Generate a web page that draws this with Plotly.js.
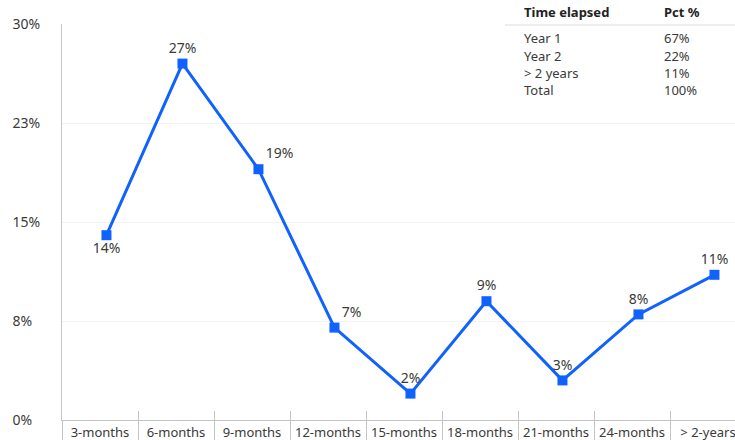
<!DOCTYPE html>
<html>
<head>
<meta charset="utf-8">
<script src="https://cdn.plot.ly/plotly-3.0.1.min.js"></script>
<style>html,body{margin:0;padding:0;background:#fff;overflow:hidden}#chart{width:735px;height:440px}</style>
</head>
<body>
<div id="chart"></div>
<script>
// ---- data ----
const categories = ['3-months','6-months','9-months','12-months','15-months','18-months','21-months','24-months','> 2-years'];
const values = [14, 27, 19, 7, 2, 9, 3, 8, 11];
const labelPositions = ['bottom center','top center','top right','top right','top center','top center','top center','top center','top center'];
const yTickValues = [0, 7.5, 15, 22.5, 30];
const yTickLabels = ['0%\u2007', '8%\u2007', '15%', '23%', '30%'];
const tableHeader = ['Time elapsed', 'Pct %'];
const tableLabels = ['Year 1', 'Year 2', '> 2 years', 'Total'];
const tablePcts = ['67%', '22%', '11%', '100%'];

// ---- layout helpers ----
const W = 735, H = 440, mL = 62, mR = 0, mT = 24, mB = 20;
const plotH = H - mT - mB, plotW = W - mL - mR;
const py = p => (H - mB - p) / plotH;     // pixel y -> paper y
const px = p => (p - mL) / plotW;         // pixel x -> paper x
const catW = 76;
const xMax = -0.5 + plotW / catW;
const shift = 0.085;
const idx = categories.map((_, i) => i);
const bounds = categories.map((_, i) => i - 0.5).concat([categories.length - 0.5]);

const textColor = '#3a3a3a';
const font = 'Noto Sans, Open Sans, sans-serif';
const axisColor = '#c4c4c4';

const trace = {
  x: categories, y: values, type: 'scatter', mode: 'lines+markers+text',
  line: {color: '#0f62fe', width: 3},
  marker: {symbol: 'square', size: 10, color: '#0f62fe'},
  text: values.map(v => v + '%'),
  textposition: labelPositions,
  textfont: {family: font, size: 14, color: textColor},
  cliponaxis: false, hoverinfo: 'skip', showlegend: false
};
// invisible helper traces so the overlaid label / tick axes are drawn
const helper = ax => ({x: idx, y: values, xaxis: ax, yaxis: 'y', type: 'scatter', mode: 'markers',
  marker: {opacity: 0, size: 1}, hoverinfo: 'skip', showlegend: false});

const annotations = [];
const colX = [522, 662];
tableHeader.forEach((t, i) => annotations.push({
  xref: 'paper', yref: 'paper', x: px(colX[i]), y: py(12), xanchor: 'left', yanchor: 'middle',
  text: '<b>' + t + '</b>', showarrow: false, font: {family: font, size: 13, color: '#222'}
}));
const rowY = [38, 56, 73, 90];
tableLabels.forEach((t, i) => {
  annotations.push({xref: 'paper', yref: 'paper', x: px(colX[0]), y: py(rowY[i]), xanchor: 'left', yanchor: 'middle',
    text: t, showarrow: false, font: {family: font, size: 13, color: textColor}});
  annotations.push({xref: 'paper', yref: 'paper', x: px(colX[1]), y: py(rowY[i]), xanchor: 'left', yanchor: 'middle',
    text: tablePcts[i], showarrow: false, font: {family: font, size: 13, color: textColor}});
});

const baseX = {range: [-0.5, xMax], showgrid: false, zeroline: false, fixedrange: true, type: 'linear'};

const layout = {
  width: W, height: H,
  margin: {l: mL, r: mR, t: mT, b: mB, pad: 0},
  paper_bgcolor: '#fff', plot_bgcolor: '#fff',
  font: {family: font, color: textColor},
  showlegend: false,
  xaxis: {type: 'category', range: [-0.5 - shift, xMax - shift], showticklabels: false, ticks: '',
          showgrid: false, zeroline: false, showline: false, fixedrange: true},
  xaxis2: Object.assign({}, baseX, {overlaying: 'x', anchor: 'y', side: 'bottom',
          tickmode: 'array', tickvals: idx, ticktext: categories, ticks: '',
          ticklabeloverflow: 'allow',
          showline: true, linecolor: axisColor, linewidth: 1,
          tickfont: {family: font, size: 13, color: textColor}}),
  xaxis3: Object.assign({}, baseX, {overlaying: 'x', anchor: 'y', side: 'bottom',
          tickmode: 'array', tickvals: bounds, showticklabels: false,
          ticks: 'outside', ticklen: 20, tickwidth: 1, tickcolor: axisColor}),
  xaxis4: Object.assign({}, baseX, {overlaying: 'x', anchor: 'y', side: 'bottom',
          tickmode: 'array', tickvals: bounds, showticklabels: false,
          ticks: 'inside', ticklen: 9, tickwidth: 1, tickcolor: axisColor}),
  yaxis: {range: [0, 30], tickmode: 'array', tickvals: yTickValues, ticktext: yTickLabels,
          showline: true, linecolor: axisColor, linewidth: 1, ticks: '',
          showgrid: true, gridcolor: '#f3f3f3', gridwidth: 1, zeroline: false,
          ticklabelstandoff: 18, fixedrange: true,
          tickfont: {family: font, size: 14, color: textColor}},
  shapes: [{type: 'line', xref: 'paper', yref: 'paper', x0: px(505), x1: 1, y0: py(25), y1: py(25),
            line: {color: '#eeeeee', width: 2}}],
  annotations: annotations
};

Plotly.newPlot('chart', [helper('x2'), helper('x3'), helper('x4'), trace], layout, {staticPlot: true, displayModeBar: false});
</script>
</body>
</html>
